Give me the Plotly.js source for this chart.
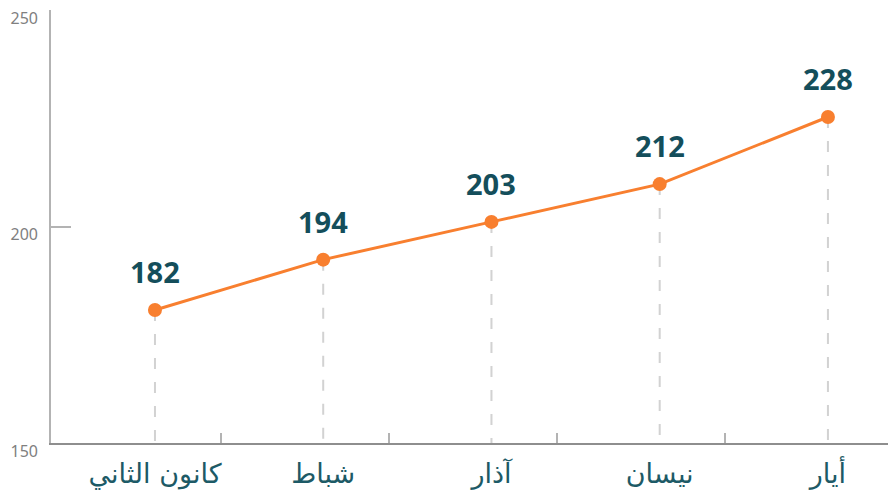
<!DOCTYPE html>
<html>
<head>
<meta charset="utf-8">
<script src="https://cdn.plot.ly/plotly-3.0.1.min.js"></script>
<style>html,body{margin:0;padding:0;background:#fff;}#chart{width:888px;height:495px;}</style>
</head>
<body>
<div id="chart"></div>
<script>
// Data
const months = ["كانون الثاني", "شباط", "آذار", "نيسان", "أيار"];
const values = [182, 194, 203, 212, 228];
const yTickVals = [150, 200, 250];
const yTickText = ["150", "200", "250"];

const orange = "#f87f2f";
const teal = "#144e5b";
const gray = "#b3b3b3";

const trace = {
  x: months,
  y: values,
  type: "scatter",
  mode: "lines+markers",
  line: {color: orange, width: 3},
  marker: {color: orange, size: 14},
  hoverinfo: "skip",
  cliponaxis: false
};

// helper (invisible) so the overlay tick axes get drawn
const helper = {
  x: [0], y: [200], xaxis: "x2", yaxis: "y2",
  type: "scatter", mode: "markers",
  marker: {opacity: 0, size: 1},
  hoverinfo: "skip", showlegend: false
};

const shapes = months.map((m, i) => ({
  type: "line", xref: "x", yref: "y",
  x0: m, x1: m, y0: values[i], y1: 150.3,
  line: {color: "#d2d2d2", width: 2, dash: "11px,13px"},
  layer: "below"
}));

const annotations = months.map((m, i) => ({
  x: m, y: values[i], xref: "x", yref: "y",
  text: String(values[i]),
  showarrow: false,
  yanchor: "middle",
  yshift: 38.5,
  font: {family: "Open Sans, sans-serif", size: 29, color: teal, weight: 700}
}));

const xr = [-0.618, 4.357];

const layout = {
  width: 888, height: 495,
  margin: {l: 51, r: 0, t: 10, b: 52},
  paper_bgcolor: "#fff", plot_bgcolor: "#fff",
  showlegend: false,
  xaxis: {
    type: "category",
    range: xr,
    showgrid: false, zeroline: false,
    showline: true, linecolor: "#8e8e8e", linewidth: 2,
    ticks: "outside", ticklen: 6, tickcolor: "rgba(0,0,0,0)",
    tickfont: {family: "DejaVu Sans, Noto Sans, sans-serif", size: 27, color: "#1d5a66"},
    fixedrange: true
  },
  xaxis2: {
    overlaying: "x", anchor: "y", side: "bottom",
    type: "linear", range: xr,
    tickmode: "array", tickvals: [0.39, 1.39, 2.39, 3.39],
    ticks: "inside", ticklen: 10, tickwidth: 2, tickcolor: gray,
    showticklabels: false, showline: false, showgrid: false, zeroline: false
  },
  yaxis: {
    range: [150.3, 253.5],
    showgrid: false, zeroline: false,
    showline: true, linecolor: gray, linewidth: 2,
    ticks: "", showticklabels: false,
    fixedrange: true
  },
  yaxis2: {
    overlaying: "y", anchor: "x", side: "left",
    range: [150, 250],
    tickmode: "array", tickvals: yTickVals, ticktext: yTickText,
    ticks: "inside", ticklen: 20, tickwidth: 2, tickcolor: gray,
    showline: false, showgrid: false, zeroline: false,
    tickfont: {family: "Noto Sans, sans-serif", size: 16, color: "#808080"},
    ticklabelshift: 8,
    ticklabelstandoff: 12
  },
  shapes: shapes,
  annotations: annotations
};

Plotly.newPlot("chart", [helper, trace], layout, {displayModeBar: false, staticPlot: true});
</script>
</body>
</html>
